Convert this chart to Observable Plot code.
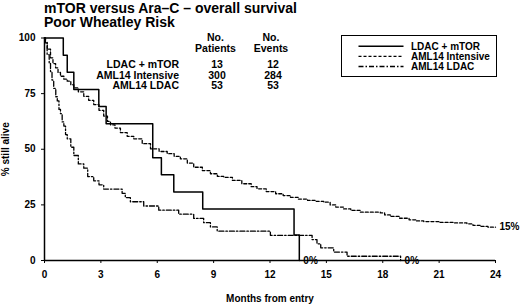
<!DOCTYPE html>
<html><head><meta charset="utf-8">
<script src="https://cdn.jsdelivr.net/npm/d3@7"></script>
<script src="https://cdn.jsdelivr.net/npm/@observablehq/plot@0.6"></script>
<style>
body{margin:0;background:#fff;}
#wrap{position:relative;width:520px;height:304px;}
#wrap svg{position:absolute;left:0;top:0;}
</style></head><body><div id="wrap"></div>
<script>
// ---- data ----
const titleLines = ["mTOR versus Ara\u2013C \u2013 overall survival", "Poor Wheatley Risk"];
const monthTicks = [0, 3, 6, 9, 12, 15, 18, 21, 24];
const survTicks = [0, 25, 50, 75, 100];
const seriesNames = ["LDAC + mTOR", "AML14 Intensive", "AML14 LDAC"];
const nPatients = [13, 300, 53];
const nEvents = [12, 284, 53];

const mtorTime = [0, 1.0, 1.21, 1.56, 2.89, 3.28, 5.76, 6.22, 6.88, 8.42, 13.28, 13.56];
const mtorSurv = [100, 92.3, 84.6, 76.9, 69.2, 61.5, 46.2, 38.5, 30.8, 23.1, 11.5, 0];

const intTime = [0, 0.05, 0.15, 0.32, 0.45, 0.59, 0.72, 0.85, 1.03, 1.21, 1.4, 1.56, 1.8, 2.09, 2.35, 2.62, 2.9, 3.15, 3.35, 3.51, 3.75, 4.04, 4.4, 4.75, 5.2, 5.64, 6.1, 6.53, 6.9, 7.23, 7.6, 7.94, 8.4, 8.83, 9.2, 9.54, 10.0, 10.5, 11.0, 11.31, 11.8, 12.3, 12.7, 13.09, 13.5, 14.0, 14.4, 14.86, 15.2, 15.5, 15.92, 16.3, 16.81, 17.4, 17.87, 18.1, 18.4, 18.9, 19.4, 19.8, 20.18, 21.0, 21.8, 22.48, 22.8, 23.19, 23.6, 24];
const intSurv = [100, 97.8, 95, 91.1, 88.5, 86.6, 84.5, 82.8, 81.5, 80.6, 79, 77.6, 75.8, 73.8, 72, 70.1, 67.5, 64.9, 62.5, 61, 59.5, 57.5, 55.8, 54.7, 52.5, 50.2, 49, 48.0, 46.8, 45.7, 43.8, 41.9, 40.4, 39.0, 37.8, 37.4, 36, 34.5, 33.2, 32.2, 31, 30, 29.2, 28.4, 27.6, 27, 26.6, 26.2, 25, 24, 23.2, 22.5, 21.7, 21.7, 21.4, 20.5, 19.8, 19, 18.3, 17.8, 17.5, 17.1, 16.9, 16.5, 15.8, 15.3, 15, 15];

const ldacTime = [0, 0.05, 0.14, 0.25, 0.32, 0.4, 0.49, 0.6, 0.68, 0.77, 0.85, 0.94, 1.03, 1.12, 1.21, 1.4, 1.56, 1.8, 2.09, 2.3, 2.62, 2.9, 3.15, 4.13, 4.3, 4.57, 5.28, 6.08, 7.14, 7.94, 8.47, 8.83, 9.19, 12.02, 14.24, 14.5, 14.7, 15.39, 16.1, 18.95];
const ldacSurv = [100, 98.1, 92.5, 88.7, 84.9, 81.1, 77.4, 73.6, 71.7, 67.9, 66.0, 62.3, 60.4, 56.6, 54.7, 50.9, 47.2, 43.4, 41.5, 37.7, 35.8, 34.0, 32.1, 30.2, 28.3, 26.4, 24.5, 22.6, 20.8, 18.9, 17.0, 15.1, 13.2, 11.3, 9.4, 7.5, 5.7, 3.8, 1.9, 0];

const endLabelX = [13.56, 18.95, 24];
const endLabelY = [0, 0, 15];
const endLabelText = ["0%", "0%", "15%"];

// ---- build ----
const FONT = "'Liberation Sans', Arial, Helvetica, sans-serif";
const dashes = [null, "3,2", "5,2,1.5,2"];
const widths = [1.5, 1.3, 1.3];
const toRows = (ts, ss) => ts.map((t, i) => ({t, s: ss[i]}));
const seriesData = [toRows(mtorTime, mtorSurv), toRows(intTime, intSurv), toRows(ldacTime, ldacSurv)];
const endLabels = endLabelX.map((x, i) => ({x, y: endLabelY[i], text: endLabelText[i]}));

const chart = Plot.plot({
  width: 520, height: 304,
  marginTop: 37.5, marginBottom: 44, marginLeft: 44, marginRight: 25,
  style: {fontFamily: FONT, fontSize: "10px", fontWeight: "bold", color: "#000", background: "transparent"},
  x: {domain: [0, 24]},
  y: {domain: [0, 100]},
  marks: [
    Plot.axisX({ticks: monthTicks, tickSize: 3, tickPadding: 7, label: "Months from entry", labelAnchor: "center", labelArrow: "none", labelOffset: 41}),
    Plot.axisY({ticks: survTicks, tickSize: 3, tickPadding: 6, label: "% still alive", labelAnchor: "center", labelArrow: "none", labelOffset: 42.5}),
    ...seriesData.map((d, i) => Plot.line(d, {x: "t", y: "s", curve: "step-after", stroke: "#000", strokeWidth: widths[i], strokeDasharray: dashes[i]})),
    Plot.ruleX([0], {y1: 0, y2: 100, stroke: "#000", strokeWidth: 1.5}),
    Plot.ruleY([0], {x1: 0, x2: 24, stroke: "#000", strokeWidth: 1.5}),
    Plot.text(endLabels, {x: "x", y: "y", text: "text", textAnchor: "start", dx: 4, fontSize: 10, fontWeight: "bold"})
  ]
});
document.getElementById("wrap").appendChild(chart);

// ---- overlay: title, table, legend ----
const ov = d3.create("svg").attr("width", 520).attr("height", 304)
  .style("font-family", FONT).style("font-weight", "bold").style("pointer-events", "none");
ov.selectAll("text.title").data(titleLines).join("text")
  .attr("x", 44).attr("y", (d, i) => 12.5 + i * 14.5).attr("font-size", 14).text(d => d);

const tbl = ov.append("g").attr("font-size", 10.5);
[["No.", "Patients", 215.5], ["No.", "Events", 271]].forEach(([a, b, cx]) => {
  tbl.append("text").attr("x", cx).attr("y", 40.7).attr("text-anchor", "middle").text(a);
  tbl.append("text").attr("x", cx).attr("y", 51.5).attr("text-anchor", "middle").text(b);
});
seriesNames.forEach((name, i) => {
  const y = 68.3 + i * 10.5;
  tbl.append("text").attr("x", 179).attr("y", y).attr("text-anchor", "end").text(name);
  tbl.append("text").attr("x", 217).attr("y", y).attr("text-anchor", "middle").text(nPatients[i]);
  tbl.append("text").attr("x", 273).attr("y", y).attr("text-anchor", "middle").text(nEvents[i]);
});

const lg = ov.append("g").attr("font-size", 10);
lg.append("rect").attr("x", 341.5).attr("y", 35.5).attr("width", 155).attr("height", 41)
  .attr("fill", "none").attr("stroke", "#000").attr("stroke-width", 1);
seriesNames.forEach((name, i) => {
  const y = 49.8 + i * 10.1;
  lg.append("line").attr("x1", 358.5).attr("x2", 403.5).attr("y1", y - 3.5).attr("y2", y - 3.5)
    .attr("stroke", "#000").attr("stroke-width", widths[i]).attr("stroke-dasharray", dashes[i]);
  lg.append("text").attr("x", 411).attr("y", y).text(name);
});
document.getElementById("wrap").appendChild(ov.node());
</script></body></html>
